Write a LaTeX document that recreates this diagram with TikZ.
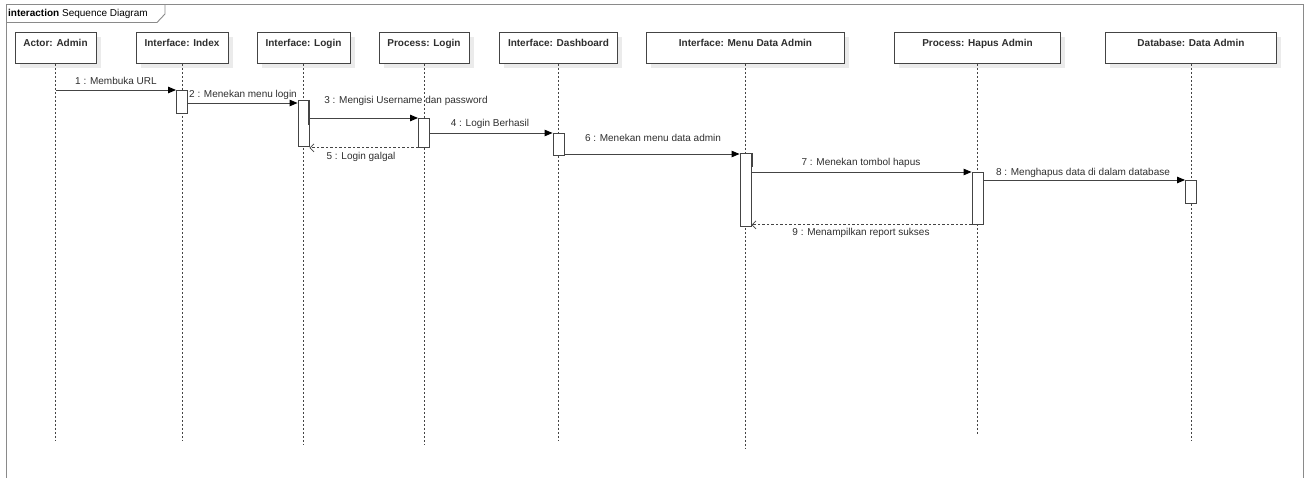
\documentclass[tikz,border=0pt]{standalone}
\usepackage{fontspec}
\setmainfont{Liberation Sans}
\usetikzlibrary{arrows.meta}
\definecolor{ink}{HTML}{2E2E2E}
\definecolor{linec}{HTML}{444444}
\definecolor{framec}{HTML}{8A8A8A}
\definecolor{shadowc}{HTML}{EBEBEB}
\tikzset{
  head/.style={draw=linec, line width=0.9pt, fill=white, minimum height=31pt,
    inner xsep=2pt, inner ysep=7pt, text height=7.5pt, text depth=9.5pt,
    font=\fontsize{10}{12}\selectfont\bfseries, text=ink, anchor=north},
  life/.style={draw=linec, line width=0.8pt, dash pattern=on 2pt off 2pt},
  actbox/.style={draw=linec, line width=0.9pt, fill=white, minimum width=11pt,
    inner sep=0pt, anchor=north},
  msg/.style={draw=linec, line width=0.9pt, -{Triangle[length=8pt,width=6.5pt,black]}},
  ret/.style={draw=linec, line width=0.8pt, dash pattern=on 2.5pt off 2pt,
    -{Straight Barb[length=4pt,width=8pt]}},
  lbl/.style={font=\fontsize{10}{12}\selectfont, text=ink, inner sep=0pt,
    text height=7.5pt, text depth=2pt},
}
\begin{document}
\begin{tikzpicture}[x=1pt,y=-1pt]
\useasboundingbox (0,0) rectangle (1310,478);

% interaction frame and its title tab
\draw[framec, line width=1.3pt] (6.5,490) -- (6.5,4.5) -- (1303.5,4.5) -- (1303.5,490);
\draw[framec, line width=0.9pt] (6.5,22.5) -- (157,22.5) -- (165,14) -- (165,4.5);
\node[anchor=west, inner sep=0pt, font=\fontsize{10}{12}\selectfont, text=black] (title) at (8,13.5)
  {\textbf{interaction} Sequence Diagram};

% lifeline heads (with soft drop shadow)
\foreach \x/\w in {55.5/81,182/92,303.5/93,424/90,558/118,745/198,977/166,1190.5/171}
  \fill[shadowc] (\x-\w/2+5,37) rectangle (\x+\w/2+5,68);
\node[head, minimum width=81pt]  (hA) at (55.5,32)  {Actor: Admin};
\node[head, minimum width=92pt]  (hI) at (182,32)   {Interface: Index};
\node[head, minimum width=93pt]  (hL) at (303.5,32) {Interface: Login};
\node[head, minimum width=90pt]  (hP) at (424,32)   {Process: Login};
\node[head, minimum width=118pt] (hD) at (558.5,32) {Interface: Dashboard};
\node[head, minimum width=198pt] (hM) at (745.5,32) {Interface: Menu Data Admin};
\node[head, minimum width=166pt] (hH) at (977.5,32) {Process: Hapus Admin};
\node[head, minimum width=171pt] (hB) at (1191,32)  {Database: Data Admin};

% lifelines
\draw[life] (hA.south) -- (hA.south |- 0,440);
\draw[life] (hI.south) -- (hI.south |- 0,440);
\draw[life] (hL.south) -- (hL.south |- 0,445);
\draw[life] (hP.south) -- (hP.south |- 0,445);
\draw[life] (hD.south) -- (hD.south |- 0,440);
\draw[life] (hM.south) -- (hM.south |- 0,448);
\draw[life] (hH.south) -- (hH.south |- 0,435);
\draw[life] (hB.south) -- (hB.south |- 0,441);

% activation bars
\node[actbox, minimum height=23pt] (aI) at (hI.south |- 0,90)  {};
\node[actbox, minimum height=46pt] (aL) at (hL.south |- 0,100) {};
\node[actbox, minimum height=29pt] (aP) at (hP.south |- 0,118) {};
\node[actbox, minimum height=22pt] (aD) at (hD.south |- 0,133) {};
\node[actbox, minimum height=73pt] (aM) at (hM.south |- 0,153) {};
\node[actbox, minimum height=52pt] (aH) at (hH.south |- 0,172) {};
\node[actbox, minimum height=23pt] (aB) at (hB.south |- 0,180) {};
% darker overlap edges on the nested bars
\draw[linec, line width=1.6pt] ([xshift=-0.5pt]aL.north east) -- ([xshift=-0.5pt,yshift=-25pt]aL.north east);
\draw[linec, line width=1.6pt] ([xshift=0.5pt]aM.north east) -- ([xshift=0.5pt,yshift=-14pt]aM.north east);

% messages
\draw[msg] (hA.south |- aI.north) -- (aI.north west);
\draw[msg] (aI.east |- 0,103) -- (aL.west |- 0,103);
\draw[msg] (aL.east |- aP.north) -- (aP.north west);
\draw[msg] (aP.east |- aD.north) -- (aD.north west);
\draw[ret] (aP.south west) -- (aL.east |- aP.south west);
\draw[msg] (aD.east |- 0,154) -- (aM.west |- 0,154);
\draw[msg] (aM.east |- aH.north) -- (aH.north west);
\draw[msg] (aH.east |- aB.north) -- (aB.north west);
\draw[ret] (aH.south west) -- (aM.east |- aH.south west);

% message labels
\node[lbl] (l1) at (116,82)   {1 : Membuka URL};
\node[lbl] (l2) at (243,95)   {2 : Menekan menu login};
\node[lbl] (l3) at (406,101)  {3 : Mengisi Username dan password};
\node[lbl] (l4) at (490,124)  {4 : Login Berhasil};
\node[lbl] (l5) at (361,157)  {5 : Login galgal};
\node[lbl] (l6) at (653,139)  {6 : Menekan menu data admin};
\node[lbl] (l7) at (861,163)  {7 : Menekan tombol hapus};
\node[lbl] (l8) at (1083,173) {8 : Menghapus data di dalam database};
\node[lbl] (l9) at (861,233)  {9 : Menampilkan report sukses};
\end{tikzpicture}
\end{document}
